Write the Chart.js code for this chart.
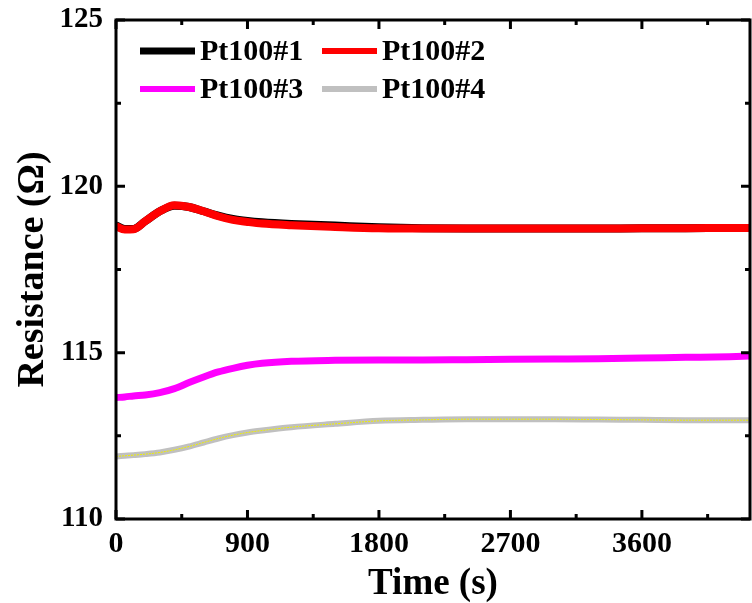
<!DOCTYPE html>
<html>
<head>
<meta charset="UTF-8">
<title>Resistance vs Time</title>
<script src="https://cdn.jsdelivr.net/npm/chart.js"></script>
<style>
    body { margin: 0; background: #fff; }
</style>
</head>
<body>
<canvas id="grafico" width="752" height="603"></canvas>
<script>
// tempo (s)
const tempos = [0, 60, 120, 200, 300, 400, 500, 600, 700, 800, 900, 1000, 1200, 1500, 1800, 2100, 2400, 2700, 3000, 3300, 3600, 3900, 4200, 4340];
const pt1 = [118.82, 118.72, 118.72, 118.95, 119.25, 119.42, 119.38, 119.25, 119.12, 119.02, 118.96, 118.92, 118.87, 118.82, 118.77, 118.74, 118.73, 118.73, 118.73, 118.73, 118.74, 118.74, 118.75, 118.75];
const pt2 = [118.80, 118.70, 118.71, 118.95, 119.25, 119.43, 119.38, 119.25, 119.10, 118.99, 118.93, 118.88, 118.83, 118.78, 118.74, 118.73, 118.73, 118.73, 118.73, 118.73, 118.74, 118.74, 118.75, 118.75];
const pt3 = [113.65, 113.67, 113.70, 113.73, 113.80, 113.92, 114.10, 114.27, 114.42, 114.53, 114.62, 114.68, 114.74, 114.77, 114.78, 114.78, 114.79, 114.80, 114.81, 114.82, 114.84, 114.86, 114.88, 114.90];
const pt4 = [111.88, 111.90, 111.92, 111.95, 112.00, 112.08, 112.18, 112.30, 112.42, 112.52, 112.60, 112.66, 112.76, 112.86, 112.95, 112.98, 113.00, 113.00, 113.00, 112.99, 112.98, 112.97, 112.97, 112.97];
const xTicks = [0, 900, 1800, 2700, 3600];
const yTicks = [110, 115, 120, 125];

const fonte = '"Liberation Serif", "Times New Roman", serif';

function pontos(vals) {
    return tempos.map((t, i) => ({ x: t, y: vals[i] }));
}

// moldura + ticks para dentro + legenda dentro do grafico
const molduraPlugin = {
    id: 'moldura',
    afterDatasetsDraw(chart) {
        const c = chart.ctx;
        const a = chart.chartArea;
        const sx = chart.scales.x, sy = chart.scales.y;
        c.save();
        c.strokeStyle = '#000';
        c.lineWidth = 3;
        c.strokeRect(a.left, a.top, a.right - a.left, a.bottom - a.top);

        c.lineWidth = 3;
        for (let v = 0; v <= 4340; v += 450) {
            const px = sx.getPixelForValue(v);
            const len = v % 900 == 0 ? 9 : 5;
            c.beginPath();
            c.moveTo(px, a.bottom); c.lineTo(px, a.bottom - len);
            c.moveTo(px, a.top); c.lineTo(px, a.top + len);
            c.stroke();
        }
        for (let v = 110; v <= 125; v += 2.5) {
            const py = sy.getPixelForValue(v);
            const len = v % 5 == 0 ? 9 : 5;
            c.beginPath();
            c.moveTo(a.left, py); c.lineTo(a.left + len, py);
            c.moveTo(a.right, py); c.lineTo(a.right - len, py);
            c.stroke();
        }

        // legenda
        const itens = chart.data.datasets.slice(0, 4);
        const cols = [140, 322];
        const rows = [51, 89];
        c.font = 'bold 30px ' + fonte;
        c.textBaseline = 'middle';
        c.textAlign = 'left';
        itens.forEach((ds, i) => {
            const x = cols[i % 2], y = rows[Math.floor(i / 2)];
            c.strokeStyle = ds.borderColor;
            c.lineWidth = i == 0 ? 7 : 6;
            c.beginPath(); c.moveTo(x, y); c.lineTo(x + 55, y); c.stroke();
            c.fillStyle = '#000';
            c.fillText(ds.label, x + 60, y + 1);
        });
        c.restore();
    }
};

const ctx = document.getElementById('grafico').getContext('2d');
const grafico = new Chart(ctx, {
    type: 'line',
    data: {
        datasets: [
            { label: 'Pt100#1', data: pontos(pt1), borderColor: '#000000', borderWidth: 8, order: 4 },
            { label: 'Pt100#2', data: pontos(pt2), borderColor: '#ff0000', borderWidth: 8, order: 3 },
            { label: 'Pt100#3', data: pontos(pt3), borderColor: '#ff00ff', borderWidth: 7, order: 2 },
            { label: 'Pt100#4', data: pontos(pt4), borderColor: '#c0c0c0', borderWidth: 6, order: 1 },
            { label: '', data: pontos(pt4), borderColor: '#f0f000', borderWidth: 1, borderDash: [2, 1], order: 0 }
        ]
    },
    options: {
        responsive: false,
        animation: false,
        elements: {
            point: { radius: 0 },
            line: { cubicInterpolationMode: 'monotone', fill: false }
        },
        layout: { padding: { top: 20, right: 2, left: 0, bottom: 0 } },
        plugins: { legend: { display: false }, tooltip: { enabled: false } },
        scales: {
            x: {
                type: 'linear',
                min: 0,
                max: 4340,
                afterBuildTicks(s) { s.ticks = xTicks.map(v => ({ value: v })); },
                afterFit(s) { s.height = 84; s.paddingLeft = 0; s.paddingRight = 0; },
                grid: { display: false, drawTicks: false },
                border: { display: false },
                ticks: {
                    color: '#000',
                    padding: 7,
                    maxRotation: 0,
                    autoSkip: false,
                    callback: v => String(v),
                    font: { family: fonte, size: 30, weight: 'bold' }
                },
                title: {
                    display: true,
                    text: 'Time (s)',
                    color: '#000',
                    padding: { top: 0, bottom: 0 },
                    font: { family: fonte, size: 37, weight: 'bold', lineHeight: 1 }
                }
            },
            y: {
                min: 110,
                max: 125,
                afterBuildTicks(s) { s.ticks = yTicks.map(v => ({ value: v })); },
                afterFit(s) { s.width = 116; s.paddingTop = 0; s.paddingBottom = 0; },
                grid: { display: false, drawTicks: false },
                border: { display: false },
                ticks: {
                    color: '#000',
                    padding: 13,
                    callback: v => String(v),
                    font: { family: fonte, size: 29, weight: 'bold' }
                },
                title: {
                    display: true,
                    text: 'Resistance (Ω)',
                    color: '#000',
                    padding: { top: 10, bottom: 0 },
                    font: { family: fonte, size: 38, weight: 'bold' }
                }
            }
        }
    },
    plugins: [molduraPlugin]
});
</script>
</body>
</html>
